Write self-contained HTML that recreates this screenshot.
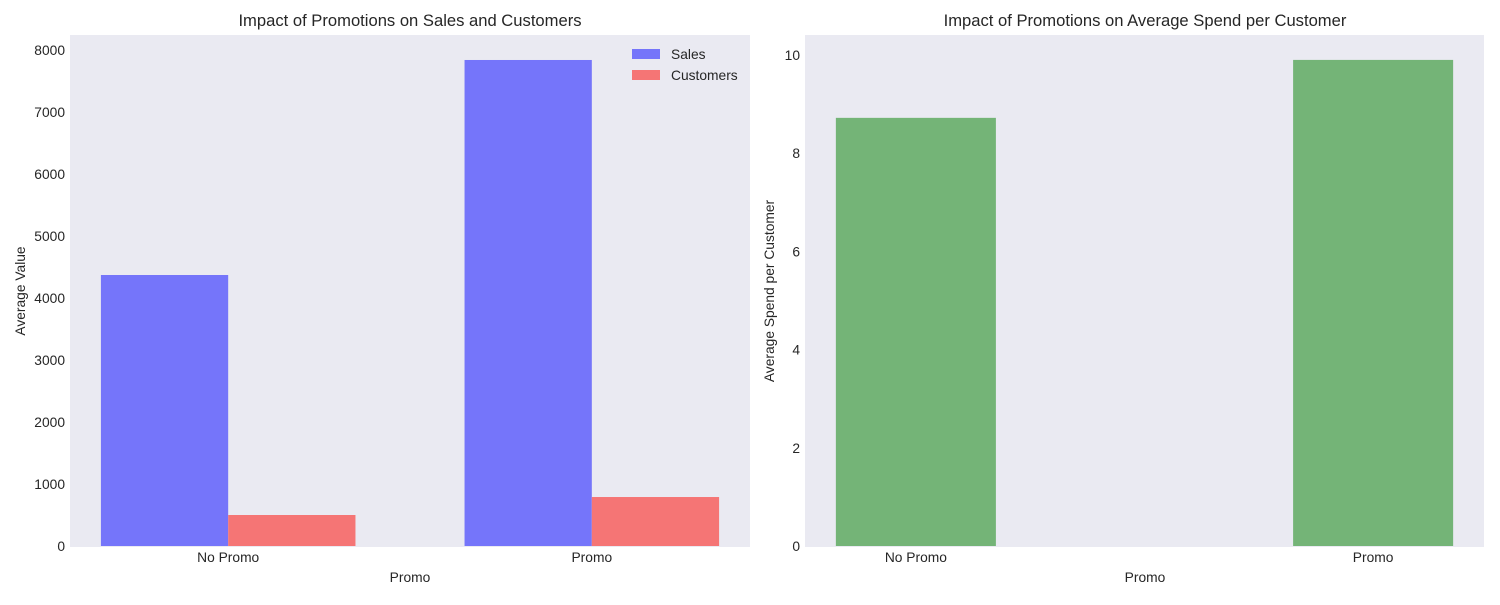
<!DOCTYPE html>
<html><head><meta charset="utf-8"><style>
body{margin:0;background:#fff;font-family:"Liberation Sans",sans-serif}
svg text{fill:#262626;font-family:"Liberation Sans",sans-serif}
</style></head><body>
<svg id="c" width="1500" height="600" xmlns="http://www.w3.org/2000/svg"></svg>
<script>
const categories = ["No Promo", "Promo"];
const salesValues = [4371, 7839];
const customerValues = [500, 790];
const spendValues = [8.72, 9.90];
const leftTicks = [0, 1000, 2000, 3000, 4000, 5000, 6000, 7000, 8000];
const rightTicks = [0, 2, 4, 6, 8, 10];

const svg = document.getElementById('c');
const NS = 'http://www.w3.org/2000/svg';
const FS = 13.8, TFS = 16.6;
function mk(tag, attrs, parent, text) {
  const e = document.createElementNS(NS, tag);
  for (const k in attrs) e.setAttribute(k, attrs[k]);
  if (text !== undefined) e.textContent = text;
  (parent || svg).appendChild(e);
  return e;
}
// Left panel
const L = {x0: 70, x1: 750, y0: 35, y1: 547};
const lx = v => L.x0 + (v + 0.435) / 1.87 * (L.x1 - L.x0);
const ly = v => 546 - v * 0.062;
let g = mk('g', {});


let bg = mk('rect', {x: L.x0, y: L.y0, width: L.x1 - L.x0, height: L.y1 - L.y0, fill: '#eaeaf2'}, g);


const bw = 0.35;
categories.forEach((c, i) => {
  let r = mk('rect', {x: lx(i - bw), y: ly(salesValues[i]), width: lx(i) - lx(i - bw), height: ly(0) - ly(salesValues[i]), fill: '#7575fa'}, g);
  
  
  r = mk('rect', {x: lx(i), y: ly(customerValues[i]), width: lx(i + bw) - lx(i), height: ly(0) - ly(customerValues[i]), fill: '#f57575'}, g);
  
  
  let t = mk('text', {x: lx(i), y: 562, 'text-anchor': 'middle', 'font-size': FS}, g, c);
  
  
});
leftTicks.forEach(v => {
  let t = mk('text', {x: 65, y: ly(v) + 5, 'text-anchor': 'end', 'font-size': FS}, g, v);
  
  
});
let t = mk('text', {x: 410, y: 26, 'text-anchor': 'middle', 'font-size': TFS}, g, 'Impact of Promotions on Sales and Customers');


t = mk('text', {x: 410, y: 582, 'text-anchor': 'middle', 'font-size': FS}, g, 'Promo');


t = mk('text', {x: 25, y: 291, 'text-anchor': 'middle', 'font-size': FS, transform: 'rotate(-90 25 291)'}, g, 'Average Value');


let lg = mk('g', {}, g);


let e = mk('rect', {x: 632, y: 49, width: 28, height: 10, fill: '#7575fa'}, lg);


e = mk('text', {x: 671, y: 59, 'font-size': FS}, lg, 'Sales');


e = mk('rect', {x: 632, y: 70, width: 28, height: 10, fill: '#f57575'}, lg);


e = mk('text', {x: 671, y: 80, 'font-size': FS}, lg, 'Customers');



// Right panel
const R = {x0: 805, x1: 1484, y0: 35, y1: 547};
const rx = v => R.x0 + (v + 0.2425) / 1.485 * (R.x1 - R.x0);
const ry = v => 546 - v * 49.1;
g = mk('g', {});


bg = mk('rect', {x: R.x0, y: R.y0, width: R.x1 - R.x0, height: R.y1 - R.y0, fill: '#eaeaf2'}, g);


categories.forEach((c, i) => {
  let r = mk('rect', {x: rx(i - bw / 2), y: ry(spendValues[i]), width: rx(i + bw / 2) - rx(i - bw / 2), height: ry(0) - ry(spendValues[i]), fill: '#74b477'}, g);
  
  
  let tt = mk('text', {x: rx(i), y: 562, 'text-anchor': 'middle', 'font-size': FS}, g, c);
  
  
});
rightTicks.forEach(v => {
  let tt = mk('text', {x: 800, y: ry(v) + 5, 'text-anchor': 'end', 'font-size': FS}, g, v);
  
  
});
t = mk('text', {x: 1145, y: 26, 'text-anchor': 'middle', 'font-size': TFS}, g, 'Impact of Promotions on Average Spend per Customer');


t = mk('text', {x: 1145, y: 582, 'text-anchor': 'middle', 'font-size': FS}, g, 'Promo');


t = mk('text', {x: 774, y: 291, 'text-anchor': 'middle', 'font-size': FS, transform: 'rotate(-90 774 291)'}, g, 'Average Spend per Customer');


</script>
</body></html>
